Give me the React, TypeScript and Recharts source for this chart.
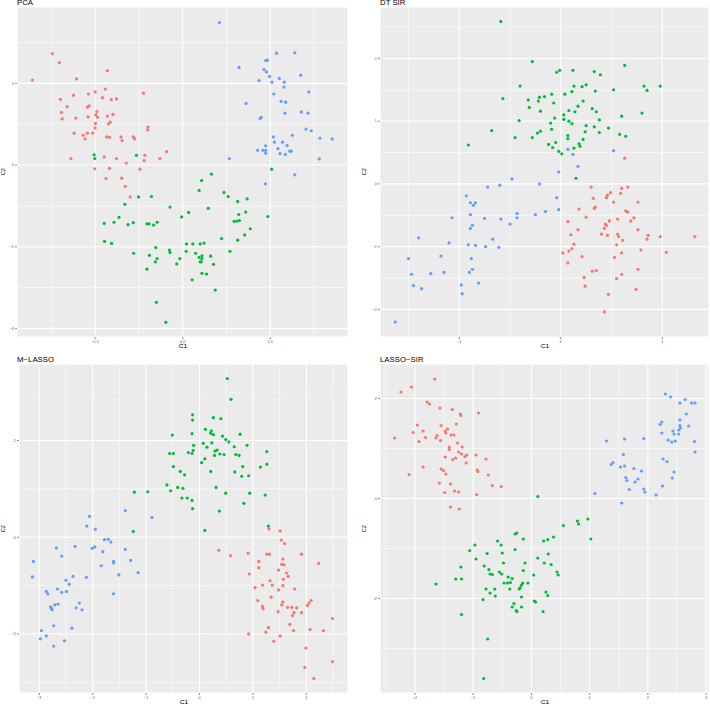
import { ScatterChart, Scatter, XAxis, YAxis, CartesianGrid } from "recharts";

type Pt = [number, number];

const RED = "#F8766D";
const GREEN = "#00BA38";
const BLUE = "#619CFF";

// ---- PCA ----
const pcaRed: Pt[] = [
  [-3.72, 2.73], [-3.52, 2.51], [-4.29, 2.08], [-3.03, 2.11], [-2.15, 2.31], [-3.49, 1.61], [-3.12, 1.71],
  [-2.69, 1.74], [-2.5, 1.79], [-2.21, 1.86], [-2.29, 1.65], [-2.04, 1.6], [-1.89, 1.62], [-1.12, 1.76],
  [-3.3, 1.43], [-3.46, 1.29], [-3.44, 1.13], [-3.05, 1.15], [-2.72, 1.42], [-2.67, 1.45], [-2.45, 1.31],
  [-2.48, 1.23], [-2.43, 1.17], [-2.7, 1.18], [-2.15, 1.2], [-1.99, 1.24], [-2.07, 1.05], [-2.12, 1.01],
  [-2.49, 1.02], [-2.5, 0.91], [-0.99, 0.93], [-1.0, 0.86], [-3.1, 0.78], [-2.84, 0.73], [-2.72, 0.78],
  [-2.57, 0.78], [-2.79, 0.64], [-2.17, 0.69], [-2.09, 0.68], [-1.76, 0.69], [-1.73, 0.6], [-1.41, 0.69],
  [-1.37, 0.64], [-3.19, 0.16], [-2.24, 0.2], [-1.89, 0.16], [-1.08, 0.24], [-1.1, 0.11], [-0.46, 0.33],
  [-0.65, 0.16], [-1.61, 0.05], [-2.51, -0.09], [-2.09, -0.08], [-1.22, -0.1], [-2.19, -0.33], [-1.74, -0.32],
  [-1.64, -0.52], [-1.5, -0.78],
];
const pcaGreen: Pt[] = [
  [-2.53, 0.25], [-2.51, 0.16], [-1.32, 0.24], [0.82, -0.22], [0.54, -0.38], [0.47, -0.62], [1.18, -0.67],
  [1.3, -0.77], [1.57, -0.89], [1.84, -0.83], [-1.65, -0.96], [-1.26, -0.78], [-0.89, -0.77], [-0.36, -1.03],
  [0.73, -1.06], [0.17, -1.16], [-0.03, -1.27], [1.8, -1.15], [1.6, -1.21], [-1.82, -1.28], [-1.96, -1.4],
  [-2.24, -1.43], [-1.56, -1.46], [-1.41, -1.41], [-1.02, -1.44], [-0.96, -1.44], [-0.83, -1.47], [-0.73, -1.4],
  [1.47, -1.38], [1.55, -1.37], [1.62, -1.36], [1.93, -1.56], [1.77, -1.71], [1.11, -1.8], [1.57, -1.84],
  [-2.23, -1.87], [-2.03, -1.92], [0.11, -1.93], [0.29, -1.93], [0.5, -1.93], [0.61, -1.91], [-0.77, -2.02],
  [-0.38, -2.08], [-0.36, -2.14], [0.1, -2.11], [-1.4, -2.16], [-0.95, -2.21], [0.37, -2.16], [1.35, -2.11],
  [0.8, -2.23], [0.55, -2.22], [0.47, -2.26], [0.55, -2.29], [-0.08, -2.29], [-0.73, -2.29], [-0.78, -2.37],
  [0.5, -2.37], [0.53, -2.37], [-0.17, -2.42], [0.88, -2.43], [-1.02, -2.55], [0.55, -2.65], [0.68, -2.67],
  [0.27, -2.81], [0.93, -3.06], [-0.75, -3.36], [-0.48, -3.85], [2.54, -0.1], [2.43, -1.26],
];
const pcaBlue: Pt[] = [
  [1.05, 3.49], [2.68, 2.74], [3.2, 2.75], [2.42, 2.57], [2.37, 2.56], [1.61, 2.39], [2.32, 2.34], [2.39, 2.28],
  [2.48, 2.17], [3.37, 2.2], [2.76, 2.12], [2.18, 2.07], [2.55, 2.03], [2.9, 2.03], [2.89, 1.91], [3.6, 1.79],
  [2.6, 1.74], [1.81, 1.51], [2.81, 1.56], [2.94, 1.54], [3.39, 1.3], [3.58, 1.27], [2.92, 1.27], [2.24, 1.17],
  [2.21, 1.14], [3.52, 0.88], [3.67, 0.84], [3.13, 0.73], [2.59, 0.69], [3.92, 0.66], [4.27, 0.64], [2.62, 0.56],
  [2.85, 0.56], [2.37, 0.47], [2.98, 0.48], [2.14, 0.36], [2.29, 0.36], [2.37, 0.36], [2.72, 0.4], [3.06, 0.34],
  [3.1, 0.34], [2.37, 0.29], [2.78, 0.28], [2.93, 0.26], [1.33, 0.16], [3.9, 0.15], [3.2, -0.24], [2.36, -0.46],
];

// ---- DT SIR ----
const dtGreen: Pt[] = [
  [-0.59, 2.59], [-0.28, 1.95], [-0.04, 1.78], [-0.01, 1.81], [0.12, 1.81], [0.33, 1.79], [0.39, 1.74],
  [0.63, 1.89], [-0.4, 1.56], [-0.57, 1.36], [-0.32, 1.34], [-0.21, 1.38], [-0.16, 1.39], [-0.09, 1.43],
  [-0.22, 1.32], [-0.31, 1.22], [-0.2, 1.16], [-0.07, 1.29], [0.04, 1.43], [0.11, 1.47], [0.13, 1.56],
  [0.21, 1.55], [0.25, 1.58], [0.34, 1.48], [0.52, 1.5], [0.82, 1.56], [0.85, 1.49], [0.98, 1.56], [0.22, 1.32],
  [0.17, 1.24], [0.08, 1.17], [0.14, 1.15], [0.31, 1.2], [0.35, 1.15], [0.03, 1.1], [-0.06, 1.05], [0.03, 1.03],
  [0.08, 1.0], [0.11, 0.96], [0.25, 0.93], [0.33, 0.91], [0.38, 1.02], [0.6, 1.08], [0.8, 1.13], [0.47, 0.89],
  [0.38, 0.82], [0.24, 0.83], [0.58, 0.79], [0.64, 0.76], [-0.41, 1.01], [-0.68, 0.85], [-0.1, 0.97],
  [-0.09, 0.87], [-0.2, 0.84], [-0.23, 0.81], [-0.28, 0.74], [-0.45, 0.74], [0.07, 0.77], [0.07, 0.72],
  [0.22, 0.71], [0.18, 0.64], [0.19, 0.6], [0.13, 0.57], [-0.05, 0.66], [-0.12, 0.63], [-0.08, 0.58],
  [-0.02, 0.52], [0.01, 0.48], [-0.91, 0.62], [0.15, 0.09],
];
const dtBlue: Pt[] = [
  [0.07, 0.55], [0.12, 0.47], [0.52, 0.53], [0.17, 0.28], [-0.02, 0.19], [-0.48, 0.08], [-0.21, 0.0],
  [-0.6, -0.02], [-0.72, -0.05], [-0.93, -0.19], [-0.04, -0.22], [-0.89, -0.3], [-0.84, -0.3], [-0.86, -0.34],
  [-0.02, -0.41], [-0.15, -0.44], [-0.43, -0.47], [-0.25, -0.49], [-0.89, -0.49], [-1.07, -0.54], [-0.75, -0.55],
  [-0.59, -0.56], [-0.43, -0.54], [-0.87, -0.66], [-0.5, -0.64], [-0.89, -0.71], [-1.4, -0.86], [-0.67, -0.88],
  [-1.1, -0.94], [-0.91, -0.97], [-0.84, -0.98], [-0.74, -1.0], [-0.61, -1.01], [-1.5, -1.19], [-1.18, -1.15],
  [-0.88, -1.19], [-0.87, -1.36], [-1.28, -1.43], [-1.15, -1.41], [-0.9, -1.41], [-1.47, -1.44], [-0.81, -1.58],
  [-1.45, -1.62], [-0.98, -1.61], [-1.37, -1.67], [-0.97, -1.75], [-1.63, -2.2],
];
const dtRed: Pt[] = [
  [0.63, 0.41], [0.3, -0.05], [0.49, -0.14], [0.6, -0.07], [0.66, -0.05], [0.59, -0.15], [0.46, -0.18],
  [0.32, -0.23], [0.45, -0.22], [0.52, -0.29], [0.76, -0.29], [0.34, -0.37], [0.33, -0.39], [0.18, -0.4],
  [0.64, -0.43], [0.66, -0.45], [0.72, -0.54], [0.25, -0.53], [0.07, -0.6], [0.48, -0.59], [0.56, -0.56],
  [0.69, -0.59], [0.44, -0.64], [0.45, -0.66], [0.43, -0.71], [0.76, -0.73], [0.17, -0.73], [0.4, -0.8],
  [0.46, -0.82], [0.56, -0.8], [0.57, -0.84], [0.86, -0.82], [0.85, -0.88], [0.98, -0.84], [1.32, -0.84],
  [0.1, -0.81], [0.13, -0.96], [0.61, -0.9], [0.55, -0.97], [0.11, -1.03], [0.08, -1.07], [0.02, -1.1],
  [0.6, -1.1], [0.79, -1.05], [1.04, -1.09], [0.21, -1.16], [0.53, -1.17], [0.07, -1.26], [0.76, -1.36],
  [0.31, -1.39], [0.35, -1.38], [0.6, -1.44], [0.23, -1.49], [0.55, -1.51], [0.24, -1.63], [0.74, -1.68],
  [0.47, -1.76], [0.43, -2.04],
];

// ---- M-LASSO ----
const mlGreen: Pt[] = [
  [0.52, 3.28], [0.59, 2.85], [-0.13, 2.53], [-0.13, 2.42], [0.26, 2.47], [0.4, 2.45], [0.11, 2.23], [0.22, 2.2],
  [0.21, 2.15], [0.26, 2.12], [-0.14, 2.14], [-0.51, 2.11], [0.43, 2.09], [0.76, 2.13], [0.49, 2.02], [0.55, 1.97],
  [0.07, 1.94], [0.23, 1.95], [-0.11, 1.9], [0.89, 1.9], [0.14, 1.86], [0.65, 1.87], [-0.12, 1.79], [0.29, 1.78],
  [0.33, 1.8], [1.26, 1.77], [-0.56, 1.73], [-0.49, 1.73], [-0.21, 1.75], [-0.14, 1.73], [0.38, 1.72], [0.46, 1.71],
  [0.28, 1.69], [0.68, 1.71], [0.74, 1.69], [0.1, 1.62], [0.04, 1.54], [1.26, 1.51], [-0.49, 1.46], [0.81, 1.46],
  [1.14, 1.45], [-0.36, 1.36], [0.21, 1.36], [0.66, 1.35], [-0.28, 1.29], [0.79, 1.26], [0.92, 1.27], [-0.61, 1.08],
  [-0.41, 1.03], [-0.31, 1.01], [0.31, 1.03], [-1.22, 0.93], [-0.97, 0.94], [-0.54, 0.96], [0.49, 0.91],
  [0.94, 0.91], [1.23, 0.87], [-0.33, 0.81], [-0.23, 0.81], [-0.14, 0.76], [0.83, 0.7], [-0.13, 0.59],
  [0.37, 0.54], [-1.24, 0.12], [0.1, 0.14], [1.29, 0.23],
];
const mlBlue: Pt[] = [
  [-1.39, 0.55], [-0.89, 0.41], [-2.06, 0.43], [-2.11, 0.23], [-1.95, 0.16], [-1.78, -0.05], [-1.71, -0.04],
  [-1.66, -0.1], [-2.33, -0.19], [-2.68, -0.22], [-1.96, -0.2], [-2.01, -0.23], [-1.39, -0.25], [-1.81, -0.3],
  [-2.58, -0.39], [-3.11, -0.5], [-1.29, -0.48], [-1.61, -0.5], [-1.61, -0.53], [-1.84, -0.59], [-1.15, -0.73],
  [-1.51, -0.78], [-2.37, -0.81], [-3.13, -0.82], [-2.12, -0.83], [-2.5, -0.89], [-2.44, -0.97], [-2.66, -1.07],
  [-2.87, -1.12], [-2.58, -1.14], [-2.49, -1.12], [-2.84, -1.17], [-1.61, -1.17], [-2.25, -1.36], [-2.65, -1.38],
  [-2.71, -1.4], [-2.79, -1.44], [-2.31, -1.46], [-2.77, -1.47], [-2.76, -1.5], [-2.2, -1.5], [-2.73, -1.83],
  [-2.39, -1.88], [-2.96, -1.93], [-2.87, -2.04], [-2.98, -2.1], [-2.53, -2.14], [-2.73, -2.25],
];
const mlRed: Pt[] = [
  [1.3, 0.17], [1.51, 0.13], [1.53, -0.06], [1.59, -0.13], [0.36, -0.27], [0.58, -0.38], [0.91, -0.33],
  [1.26, -0.35], [1.31, -0.35], [1.91, -0.35], [1.11, -0.5], [1.56, -0.45], [1.54, -0.56], [1.58, -0.57],
  [2.23, -0.54], [1.11, -0.63], [1.48, -0.68], [1.63, -0.74], [0.93, -0.76], [1.66, -0.81], [1.32, -0.9],
  [1.57, -0.87], [1.18, -0.99], [1.36, -0.99], [1.56, -1.0], [1.04, -1.04], [1.48, -1.09], [1.78, -1.07],
  [1.34, -1.24], [1.09, -1.31], [2.09, -1.31], [1.56, -1.34], [2.05, -1.36], [2.02, -1.41], [1.18, -1.43],
  [1.54, -1.4], [1.65, -1.45], [1.73, -1.45], [1.82, -1.46], [1.19, -1.48], [1.47, -1.54], [1.77, -1.56],
  [1.74, -1.62], [1.91, -1.56], [2.49, -1.68], [1.69, -1.8], [1.29, -1.87], [2.07, -1.91], [2.32, -1.93],
  [1.76, -1.93], [1.24, -1.96], [0.92, -2.0], [1.51, -2.04], [1.39, -2.15], [1.99, -2.29], [2.49, -2.57],
  [1.97, -2.69], [2.14, -2.92],
];

// ---- LASSO-SIR ----
const lsRed: Pt[] = [
  [-1.66, 2.39], [-2.06, 2.23], [-2.24, 2.13], [-1.79, 1.93], [-1.75, 1.89], [-1.57, 1.81], [-1.36, 1.78],
  [-0.91, 1.71], [-1.22, 1.69], [-1.21, 1.66], [-1.29, 1.49], [-1.96, 1.47], [-1.55, 1.46], [-1.44, 1.39],
  [-2.03, 1.32], [-1.86, 1.35], [-1.48, 1.35], [-1.47, 1.31], [-1.38, 1.27], [-1.33, 1.27], [-1.62, 1.26],
  [-1.64, 1.21], [-1.82, 1.22], [-2.35, 1.21], [-1.56, 1.16], [-1.93, 1.14], [-1.27, 1.11], [-1.41, 1.03],
  [-1.19, 1.03], [-1.41, 0.98], [-1.25, 0.93], [-1.2, 0.89], [-1.11, 0.87], [-1.14, 0.84], [-0.95, 0.87],
  [-1.48, 0.83], [-1.3, 0.81], [-1.35, 0.78], [-0.78, 0.79], [-1.12, 0.71], [-1.86, 0.63], [-1.55, 0.59],
  [-1.51, 0.56], [-0.93, 0.57], [-0.92, 0.54], [-2.1, 0.48], [-1.47, 0.49], [-0.74, 0.47], [-1.58, 0.31],
  [-1.39, 0.29], [-0.67, 0.26], [-0.52, 0.24], [-1.32, 0.15], [-1.49, 0.12], [-1.25, 0.13], [-0.94, 0.08],
  [-1.39, -0.17], [-1.24, -0.21],
];
const lsBlue: Pt[] = [
  [2.3, 2.09], [2.39, 2.03], [2.64, 1.98], [2.55, 1.91], [2.75, 1.91], [2.81, 1.91], [2.66, 1.69], [2.55, 1.57],
  [2.24, 1.53], [2.21, 1.48], [2.55, 1.46], [2.7, 1.45], [2.56, 1.41], [2.53, 1.37], [2.43, 1.35], [2.24, 1.31],
  [2.45, 1.29], [2.53, 1.29], [1.29, 1.15], [1.6, 1.19], [1.93, 1.2], [2.35, 1.17], [2.47, 1.15], [2.41, 1.13],
  [2.8, 1.14], [2.81, 0.93], [1.58, 0.88], [2.26, 0.79], [2.33, 0.74], [1.4, 0.72], [1.37, 0.68], [1.6, 0.65],
  [1.53, 0.63], [1.76, 0.6], [1.89, 0.55], [2.45, 0.53], [1.62, 0.42], [1.64, 0.36], [2.42, 0.41], [1.83, 0.39],
  [1.78, 0.33], [2.25, 0.25], [1.68, 0.18], [1.93, 0.19], [1.95, 0.13], [2.14, 0.07], [1.09, 0.1], [1.55, -0.09],
];
const lsGreen: Pt[] = [
  [0.11, 0.04], [0.97, -0.41], [0.79, -0.45], [0.81, -0.51], [0.55, -0.54], [-0.25, -0.69], [-0.28, -0.71],
  [1.02, -0.81], [0.38, -0.77], [0.28, -0.82], [0.21, -0.85], [-0.14, -0.81], [-0.58, -0.85], [-0.52, -0.93],
  [-0.97, -0.93], [-1.06, -1.04], [-0.28, -1.02], [-0.76, -1.1], [-0.5, -1.09], [0.29, -1.11], [-0.95, -1.21],
  [0.11, -1.19], [-0.48, -1.29], [-0.11, -1.29], [0.22, -1.29], [0.34, -1.32], [-0.81, -1.35], [-1.21, -1.37],
  [-0.73, -1.42], [-0.14, -1.44], [-0.55, -1.47], [-0.51, -1.51], [-0.71, -1.51], [-0.67, -1.52], [0.44, -1.47],
  [0.46, -1.53], [0.04, -1.53], [-0.4, -1.57], [-1.3, -1.61], [-1.2, -1.61], [-0.33, -1.6], [-0.47, -1.69],
  [-0.41, -1.69], [-0.36, -1.68], [-1.64, -1.71], [-0.15, -1.69], [-0.06, -1.69], [-0.17, -1.73], [-0.19, -1.78],
  [-0.21, -1.81], [-0.78, -1.81], [-0.37, -1.81], [-0.63, -1.81], [-0.71, -1.89], [-0.62, -1.95], [0.25, -1.87],
  [0.28, -1.94], [-0.17, -1.97], [-0.83, -2.02], [0.05, -2.05], [0.07, -2.07], [-0.3, -2.1], [-0.33, -2.17],
  [-0.17, -2.17], [-0.26, -2.24], [-0.25, -2.26], [0.2, -2.26], [-1.2, -2.32], [-0.75, -2.81], [-0.82, -3.6],
];

const fmt = (digits: number) => (v: number) => v.toFixed(digits).replace("-", "\u2212");

const toRows = (pts: Pt[]) => pts.map(([x, y]) => ({ x, y }));

const dot = (color: string) => (props: any) =>
  <circle cx={props.cx} cy={props.cy} r={1.6} fill={color} />;

interface PanelProps {
  title: string;
  titleLeft: number;
  left: number;
  top: number;
  width: number;
  height: number;
  c2x: number;
  xDomain: [number, number];
  yDomain: [number, number];
  xTicks: number[];
  yTicks: number[];
  xMinor: number[];
  yMinor: number[];
  xDigits: number;
  red: Pt[];
  green: Pt[];
  blue: Pt[];
}

function Panel(p: PanelProps) {
  // outer margins around the plot; axes take yw / xh of that space
  const ml = 6, mt = 10, mr = 2, mb = 10;
  const yw = 14, xh = 10;
  const tickStyle = { fontSize: 3.7, fill: "#4D4D4D", fontFamily: "Liberation Sans, Arial, sans-serif" };
  return (
    <>
      <div
        style={{
          position: "absolute", left: p.titleLeft, top: p.top - 7.4, fontSize: 6.4, lineHeight: 1,
          whiteSpace: "nowrap", transform: "scaleX(1.22)", transformOrigin: "left top", color: "#000",
        }}
      >
        {p.title}
      </div>
      <div style={{ position: "absolute", left: p.left - ml - yw, top: p.top - mt }}>
        <ScatterChart
          width={p.width + ml + yw + mr}
          height={p.height + mt + mb + xh}
          margin={{ top: mt, left: ml, right: mr, bottom: mb }}
        >
          <CartesianGrid
            fill="#EBEBEB"
            stroke="#FFFFFF"
            strokeWidth={0.5}
            horizontalValues={p.yMinor}
            verticalValues={p.xMinor}
          />
          <CartesianGrid stroke="#FFFFFF" strokeWidth={1.1} />
          <XAxis
            type="number"
            dataKey="x"
            domain={p.xDomain}
            ticks={p.xTicks}
            allowDataOverflow
            height={xh}
            axisLine={false}
            tickSize={2}
            tickMargin={1}
            tickLine={{ stroke: "#333333", strokeWidth: 0.6 }}
            tick={tickStyle}
            tickFormatter={fmt(p.xDigits)}
            interval={0}
          />
          <YAxis
            type="number"
            dataKey="y"
            domain={p.yDomain}
            ticks={p.yTicks}
            allowDataOverflow
            width={yw}
            axisLine={false}
            tickSize={2}
            tickMargin={1.2}
            tickLine={{ stroke: "#333333", strokeWidth: 0.6 }}
            tick={tickStyle}
            tickFormatter={fmt(0)}
            interval={0}
          />
          <Scatter data={toRows(p.red)} fill={RED} shape={dot(RED)} isAnimationActive={false} />
          <Scatter data={toRows(p.green)} fill={GREEN} shape={dot(GREEN)} isAnimationActive={false} />
          <Scatter data={toRows(p.blue)} fill={BLUE} shape={dot(BLUE)} isAnimationActive={false} />
        </ScatterChart>
      </div>
      <div
        style={{
          position: "absolute", left: p.left + p.width / 2 - 20, width: 40, top: p.top + p.height + 9.5 - 2.75,
          textAlign: "center", fontSize: 5.5, lineHeight: 1, transform: "scaleX(1.2)", color: "#000",
        }}
      >
        C1
      </div>
      <div
        style={{
          position: "absolute", left: p.c2x - 20, width: 40, top: p.top + p.height / 2 - 2.75,
          textAlign: "center", fontSize: 5.5, lineHeight: 1, transform: "rotate(-90deg)", color: "#000",
        }}
      >
        C2
      </div>
    </>
  );
}

export default function App() {
  return (
    <div
      style={{
        position: "absolute", left: 0, top: 0, width: 710, height: 706, background: "#FFFFFF",
        overflow: "hidden", fontFamily: "Liberation Sans, Arial, sans-serif",
      }}
    >
      <Panel
        title="PCA" titleLeft={17} left={17} top={7} width={331} height={330} c2x={3.8}
        xDomain={[-4.73, 4.72]} yDomain={[-4.21, 3.87]}
        xTicks={[-2.5, 0, 2.5]} yTicks={[-4, -2, 0, 2]}
        xMinor={[-3.75, -1.25, 1.25, 3.75]} yMinor={[-3, -1, 1, 3]}
        xDigits={1} red={pcaRed} green={pcaGreen} blue={pcaBlue}
      />
      <Panel
        title="DT SIR" titleLeft={380} left={380} top={7} width={329} height={330} c2x={364.5}
        xDomain={[-1.78, 1.46]} yDomain={[-2.44, 2.82]}
        xTicks={[-1, 0, 1]} yTicks={[-2, -1, 0, 1, 2]}
        xMinor={[-1.5, -0.5, 0.5]} yMinor={[-1.5, -0.5, 0.5, 1.5, 2.5]}
        xDigits={0} red={dtRed} green={dtGreen} blue={dtBlue}
      />
      <Panel
        title={"M\u2212LASSO"} titleLeft={17} left={19} top={364} width={329} height={329} c2x={3.5}
        xDomain={[-3.38, 2.78]} yDomain={[-3.22, 3.58]}
        xTicks={[-3, -2, -1, 0, 1, 2]} yTicks={[-2, 0, 2]}
        xMinor={[-2.5, -1.5, -0.5, 0.5, 1.5, 2.5]} yMinor={[-3, -1, 1, 3]}
        xDigits={0} red={mlRed} green={mlGreen} blue={mlBlue}
      />
      <Panel
        title={"LASSO\u2212SIR"} titleLeft={380} left={380} top={364} width={329} height={329} c2x={365}
        xDomain={[-2.6, 3.05]} yDomain={[-3.89, 2.69]}
        xTicks={[-2, -1, 0, 1, 2, 3]} yTicks={[-2, 0, 2]}
        xMinor={[-2.5, -1.5, -0.5, 0.5, 1.5, 2.5]} yMinor={[-3, -1, 1]}
        xDigits={0} red={lsRed} green={lsGreen} blue={lsBlue}
      />
    </div>
  );
}
